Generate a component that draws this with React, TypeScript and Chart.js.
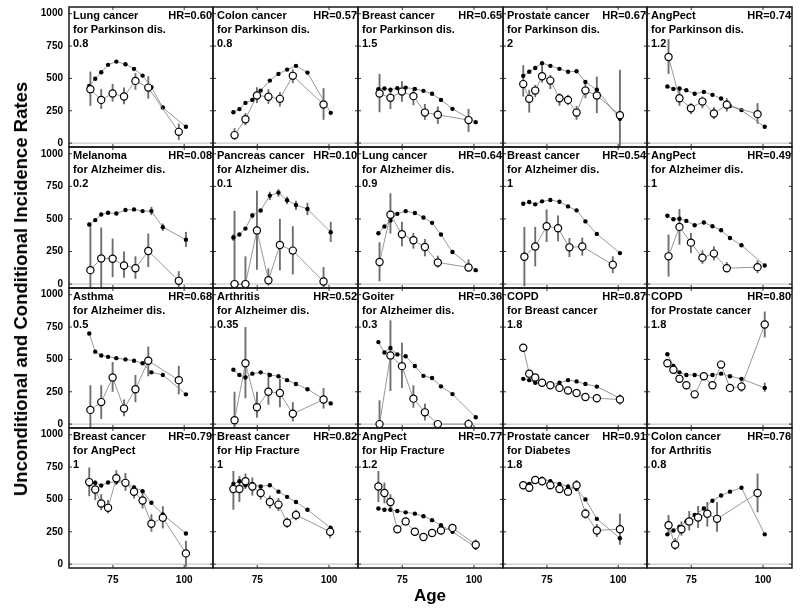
import React, { useEffect, useRef } from "react";
import { Chart, registerables } from "chart.js";
Chart.register(...registerables);

const FONT = "'Liberation Sans', Arial, Helvetica, sans-serif";
const X_MIN = 59.6;
const X_MAX = 110.1;
const Y_MIN = -30;
const Y_MAX = 1052;
const Y_TICKS = [0, 250, 500, 750, 1000];
const X_TICKS = [75, 100];
const COL_EDGES = [69, 213, 358, 503, 647, 792];
const ROW_EDGES = [7, 147, 288, 428, 568];
const PAD = 2;
const Y_AXIS_W = 48;
const X_AXIS_H = 26;

// ages (x positions) of the points
const AGE_U = [66.7, 68.8, 70.9, 73.3, 76.2, 79.4, 82.4, 85.4, 88.5, 92.5, 100.6];
const AGE_C = [67.1, 70.9, 74.9, 78.9, 82.9, 87.4, 98.1];

// Row 1
const p1Unc = [442, 497, 548, 605, 630, 610, 574, 522, 432, 275, 126];
const p1Cond = [417, 334, 383, 360, 481, 429, 87];
const p1Lo = [288, 265, 321, 301, 412, 344, 25];
const p1Hi = [553, 417, 458, 429, 541, 517, 151];

const p2Unc = [239, 263, 311, 334, 406, 483, 535, 568, 597, 545, 234];
const p2Cond = [62, 185, 368, 358, 342, 520, 298];
const p2Lo = [25, 139, 309, 303, 283, 463, 180];
const p2Hi = [116, 232, 432, 417, 394, 571, 425];

const p3Unc = [417, 422, 412, 425, 429, 419, 404, 381, 334, 265, 162];
const p3Cond = [383, 350, 398, 363, 236, 219, 178];
const p3Lo = [239, 263, 319, 293, 180, 149, 87];
const p3Hi = [535, 417, 479, 427, 303, 283, 265];

const p4Unc = [520, 551, 581, 618, 597, 574, 551, 556, 473, 412, 188];
const p4Cond = [456, 342, 406, 517, 483, 347, 334, 236, 406, 368, 216];
const p4Lo = [360, 236, 355, 468, 417, 288, 293, 180, 347, 232, -30];
const p4Hi = [602, 412, 450, 605, 527, 386, 373, 288, 468, 514, 566];

const p5Unc = [437, 419, 422, 409, 381, 396, 373, 345, 286, 255, 126];
const p5Cond = [666, 347, 270, 321, 229, 296, 224];
const p5Lo = [535, 288, 224, 270, 185, 244, 149];
const p5Hi = [803, 417, 309, 360, 278, 347, 309];

// Row 2
const p6Unc = [457, 491, 534, 547, 542, 568, 573, 560, 560, 437, 341];
const p6UncLo = [null, null, null, null, null, null, null, null, 529, 408, 285];
const p6UncHi = [null, null, null, null, null, null, null, null, 593, 465, 400];
const p6Cond = [107, 197, 195, 143, 122, 254, 25];
const p6Lo = [-40, -24, 53, 48, 40, 130, -24];
const p6Hi = [457, 434, 349, 251, 213, 388, 99];

const p7Unc = [357, 380, 426, 527, 565, 679, 702, 643, 607, 576, 398];
const p7UncLo = [331, null, null, 504, null, 645, 671, 614, 568, 529, 323];
const p7UncHi = [383, null, null, 547, null, 709, 728, 671, 640, 624, 478];
const p7Cond = [0, 0, 411, 30, 300, 257, 20];
const p7Lo = [0, 0, 110, -11, 105, 74, -24];
const p7Hi = [562, 213, 717, 120, 501, 444, 130];

const p8Unc = [390, 442, 488, 539, 560, 545, 511, 470, 380, 246, 107];
const p8Cond = [169, 532, 383, 336, 285, 166, 128];
const p8Lo = [22, 388, 290, 272, 213, 126, 92];
const p8Hi = [321, 697, 478, 393, 346, 218, 190];

const p9Unc = [617, 630, 612, 635, 645, 632, 596, 566, 481, 385, 238];
const p9Cond = [210, 288, 444, 429, 282, 288, 149];
const p9Lo = [-17, 136, 323, 329, 207, 218, 84];
const p9Hi = [439, 439, 573, 527, 354, 357, 213];

const p10Unc = [524, 498, 501, 485, 452, 473, 444, 413, 354, 298, 143];
const p10Cond = [213, 439, 318, 203, 234, 122, 130];
const p10Lo = [58, 303, 238, 156, 182, 99, 84];
const p10Hi = [380, 576, 393, 259, 290, 169, 182];

// Row 3
const p11Unc = [700, 560, 530, 520, 510, 500, 490, 470, 400, 380, 230];
const p11Cond = [110, 170, 360, 120, 270, 490, 340];
const p11Lo = [-30, 40, 250, 60, 170, 370, 230];
const p11Hi = [300, 300, 480, 190, 380, 600, 450];

const p12Unc = [420, 380, 360, 390, 400, 380, 370, 340, 310, 270, 160];
const p12Cond = [30, 470, 130, 250, 240, 80, 190];
const p12Lo = [-30, 200, 50, 150, 130, 20, 120];
const p12Hi = [250, 750, 250, 400, 350, 170, 280];

const p13Unc = [634, 554, 588, 539, 524, 449, 373, 356, 292, 232, 53];
const p13Cond = [0, 531, 448, 197, 91, 0, 0];
const p13Lo = [0, 256, 279, 127, 29, 0, -5];
const p13Hi = [184, 802, 629, 300, 158, 0, 40];

const p14Unc = [350, 340, 320, 310, 300, 320, 340, 330, 310, 290, 200];
const p14Cond = [590, 390, 360, 320, 300, 280, 260, 240, 210, 200, 190];
const p14Lo = [560, 370, 340, 300, 280, 260, 240, 220, 190, 170, 150];
const p14Hi = [620, 410, 380, 340, 320, 300, 280, 260, 230, 230, 230];

const p15Unc = [540, 450, 400, 380, 380, 370, 380, 390, 370, 350, 280];
const p15UncLo = [null, null, null, null, null, null, null, null, null, null, 250];
const p15UncHi = [null, null, null, null, null, null, null, null, null, null, 320];
const p15Cond = [470, 420, 350, 300, 230, 370, 300, 460, 280, 290, 770];
const p15Lo = [440, 390, 320, 270, 200, 340, 270, 430, 250, 250, 670];
const p15Hi = [500, 450, 380, 330, 260, 400, 330, 490, 310, 330, 870];

// Row 4
const p16Unc = [616, 628, 608, 631, 636, 631, 593, 564, 474, 384, 237];
const p16Cond = [634, 577, 469, 435, 664, 628, 559, 492, 312, 358, 83];
const p16Lo = [525, 495, 417, 392, 610, 566, 507, 430, 250, 276, -20];
const p16Hi = [747, 649, 541, 495, 726, 705, 610, 572, 386, 448, 180];

const p17Unc = [620, 640, 610, 620, 600, 610, 560, 520, 480, 420, 280];
const p17Cond = [580, 580, 640, 600, 550, 480, 460, 320, 380, 250];
const p17Lo = [420, 480, 580, 530, 500, 430, 410, 280, 340, 200];
const p17Hi = [720, 680, 700, 670, 600, 530, 510, 360, 420, 300];

const p18Unc = [430, 420, 420, 410, 400, 390, 370, 340, 300, 250, 130];
const p18Cond = [600, 550, 480, 270, 330, 250, 210, 240, 260, 280, 150];
const p18Lo = [480, 470, 420, 240, 300, 220, 180, 210, 230, 250, 110];
const p18Hi = [720, 630, 540, 300, 360, 280, 240, 270, 290, 310, 190];

const p19Unc = [600, 620, 650, 660, 640, 620, 600, 580, 500, 350, 200];
const p19Cond = [610, 590, 650, 640, 610, 580, 560, 610, 390, 260, 270];
const p19Lo = [580, 560, 620, 610, 580, 550, 530, 570, 350, 210, 150];
const p19Hi = [640, 620, 680, 670, 640, 610, 590, 650, 430, 310, 390];

const p20Unc = [230, 260, 290, 330, 380, 430, 490, 530, 560, 590, 230];
const p20Cond = [300, 150, 270, 330, 360, 390, 350, 550];
const p20Lo = [230, 110, 220, 260, 280, 290, 250, 400];
const p20Hi = [380, 200, 330, 410, 450, 480, 480, 700];

type Panel = {
  name: string;
  target: string;
  value: string;
  hr: string;
  unc: number[];
  uncLo?: (number | null)[];
  uncHi?: (number | null)[];
  condX: number[];
  cond: number[];
  lo: number[];
  hi: number[];
};

const AGE_C10 = AGE_U.slice(0, 9).concat([100.4]);
const AGE_C8 = [67.1, 69.4, 71.6, 74.3, 77.4, 80.6, 84.0, 98.1];

const PANELS: Panel[] = [
  { name: "Lung cancer", target: "for Parkinson dis.", value: "0.8", hr: "HR=0.60", unc: p1Unc, condX: AGE_C, cond: p1Cond, lo: p1Lo, hi: p1Hi },
  { name: "Colon cancer", target: "for Parkinson dis.", value: "0.8", hr: "HR=0.57", unc: p2Unc, condX: AGE_C, cond: p2Cond, lo: p2Lo, hi: p2Hi },
  { name: "Breast cancer", target: "for Parkinson dis.", value: "1.5", hr: "HR=0.65", unc: p3Unc, condX: AGE_C, cond: p3Cond, lo: p3Lo, hi: p3Hi },
  { name: "Prostate cancer", target: "for Parkinson dis.", value: "2", hr: "HR=0.67", unc: p4Unc, condX: AGE_U, cond: p4Cond, lo: p4Lo, hi: p4Hi },
  { name: "AngPect", target: "for Parkinson dis.", value: "1.2", hr: "HR=0.74", unc: p5Unc, condX: AGE_C, cond: p5Cond, lo: p5Lo, hi: p5Hi },
  { name: "Melanoma", target: "for Alzheimer dis.", value: "0.2", hr: "HR=0.08", unc: p6Unc, uncLo: p6UncLo, uncHi: p6UncHi, condX: AGE_C, cond: p6Cond, lo: p6Lo, hi: p6Hi },
  { name: "Pancreas cancer", target: "for Alzheimer dis.", value: "0.1", hr: "HR=0.10", unc: p7Unc, uncLo: p7UncLo, uncHi: p7UncHi, condX: AGE_C, cond: p7Cond, lo: p7Lo, hi: p7Hi },
  { name: "Lung cancer", target: "for Alzheimer dis.", value: "0.9", hr: "HR=0.64", unc: p8Unc, condX: AGE_C, cond: p8Cond, lo: p8Lo, hi: p8Hi },
  { name: "Breast cancer", target: "for Alzheimer dis.", value: "1", hr: "HR=0.54", unc: p9Unc, condX: AGE_C, cond: p9Cond, lo: p9Lo, hi: p9Hi },
  { name: "AngPect", target: "for Alzheimer dis.", value: "1", hr: "HR=0.49", unc: p10Unc, condX: AGE_C, cond: p10Cond, lo: p10Lo, hi: p10Hi },
  { name: "Asthma", target: "for Alzheimer dis.", value: "0.5", hr: "HR=0.68", unc: p11Unc, condX: AGE_C, cond: p11Cond, lo: p11Lo, hi: p11Hi },
  { name: "Arthritis", target: "for Alzheimer dis.", value: "0.35", hr: "HR=0.52", unc: p12Unc, condX: AGE_C, cond: p12Cond, lo: p12Lo, hi: p12Hi },
  { name: "Goiter", target: "for Alzheimer dis.", value: "0.3", hr: "HR=0.36", unc: p13Unc, condX: AGE_C, cond: p13Cond, lo: p13Lo, hi: p13Hi },
  { name: "COPD", target: "for Breast cancer", value: "1.8", hr: "HR=0.87", unc: p14Unc, condX: AGE_U, cond: p14Cond, lo: p14Lo, hi: p14Hi },
  { name: "COPD", target: "for Prostate cancer", value: "1.8", hr: "HR=0.80", unc: p15Unc, uncLo: p15UncLo, uncHi: p15UncHi, condX: AGE_U, cond: p15Cond, lo: p15Lo, hi: p15Hi },
  { name: "Breast cancer", target: "for AngPect", value: "1", hr: "HR=0.79", unc: p16Unc, condX: AGE_U, cond: p16Cond, lo: p16Lo, hi: p16Hi },
  { name: "Breast cancer", target: "for Hip Fracture", value: "1", hr: "HR=0.82", unc: p17Unc, condX: AGE_C10, cond: p17Cond, lo: p17Lo, hi: p17Hi },
  { name: "AngPect", target: "for Hip Fracture", value: "1.2", hr: "HR=0.77", unc: p18Unc, condX: AGE_U, cond: p18Cond, lo: p18Lo, hi: p18Hi },
  { name: "Prostate cancer", target: "for Diabetes", value: "1.8", hr: "HR=0.91", unc: p19Unc, condX: AGE_U, cond: p19Cond, lo: p19Lo, hi: p19Hi },
  { name: "Colon cancer", target: "for Arthritis", value: "0.8", hr: "HR=0.76", unc: p20Unc, condX: AGE_C8, cond: p20Cond, lo: p20Lo, hi: p20Hi },
];

function line(ctx: CanvasRenderingContext2D, x1: number, y1: number, x2: number, y2: number) {
  ctx.beginPath();
  ctx.moveTo(x1, y1);
  ctx.lineTo(x2, y2);
  ctx.stroke();
}

const decorPlugin = {
  id: "panelDecor",
  beforeDatasetsDraw(chart: any) {
    const { ctx, chartArea: a, scales } = chart;
    const xs = scales.x;
    const ys = scales.y;
    ctx.save();
    ctx.strokeStyle = "#bdbdbd";
    ctx.lineWidth = 1;
    const y0 = ys.getPixelForValue(0);
    line(ctx, a.left, y0, a.right, y0);
    ctx.strokeStyle = "#333";
    ctx.lineWidth = 1;
    Y_TICKS.forEach((v) => {
      const y = ys.getPixelForValue(v);
      line(ctx, a.left, y, a.left + 3, y);
      line(ctx, a.right - 3, y, a.right, y);
    });
    X_TICKS.forEach((v) => {
      const x = xs.getPixelForValue(v);
      line(ctx, x, a.bottom, x, a.bottom - 3);
      line(ctx, x, a.top, x, a.top + 3);
    });
    ctx.beginPath();
    ctx.rect(a.left, a.top, a.right - a.left, a.bottom - a.top);
    ctx.clip();
    ctx.strokeStyle = "#6f6f6f";
    ctx.lineWidth = 1.9;
    chart.data.datasets.forEach((ds: any) => {
      const lo = ds.errLo;
      const hi = ds.errHi;
      if (!lo || !hi) return;
      ds.data.forEach((p: any, i: number) => {
        if (lo[i] == null || hi[i] == null) return;
        const x = xs.getPixelForValue(p.x);
        line(ctx, x, ys.getPixelForValue(lo[i]), x, ys.getPixelForValue(hi[i]));
      });
    });
    ctx.restore();
  },
  afterDraw(chart: any, _args: any, opts: any) {
    const { ctx, chartArea: a } = chart;
    ctx.save();
    ctx.strokeStyle = "#1a1a1a";
    ctx.lineWidth = 1.5;
    ctx.strokeRect(a.left, a.top, a.right - a.left, a.bottom - a.top);
    ctx.fillStyle = "#000";
    ctx.font = `bold 11px ${FONT}`;
    ctx.textBaseline = "alphabetic";
    ctx.textAlign = "left";
    ctx.fillText(opts.name, a.left + 4, a.top + 12);
    ctx.fillText(opts.target, a.left + 4, a.top + 26);
    ctx.fillText(opts.value, a.left + 4, a.top + 40);
    ctx.textAlign = "right";
    ctx.fillText(opts.hr, a.right - 1, a.top + 12);
    ctx.restore();
  },
};

function zeroPadding(s: any) {
  s.paddingTop = 0;
  s.paddingBottom = 0;
  s.paddingLeft = 0;
  s.paddingRight = 0;
}

export default function App() {
  const refs = useRef<(HTMLCanvasElement | null)[]>([]);

  const layout = PANELS.map((_, i) => {
    const r = Math.floor(i / 5);
    const c = i % 5;
    const w = COL_EDGES[c + 1] - COL_EDGES[c];
    const h = ROW_EDGES[r + 1] - ROW_EDGES[r];
    const leftExtra = c === 0 ? Y_AXIS_W : PAD;
    const bottomExtra = r === 3 ? X_AXIS_H : PAD;
    return {
      r,
      c,
      left: COL_EDGES[c] - leftExtra,
      top: ROW_EDGES[r] - PAD,
      width: w + leftExtra + PAD,
      height: h + PAD + bottomExtra,
    };
  });

  useEffect(() => {
    const charts: Chart[] = [];
    PANELS.forEach((p, i) => {
      const canvas = refs.current[i];
      if (!canvas) return;
      const { r, c } = layout[i];
      const showX = r === 3;
      const showY = c === 0;
      const tickFont = { family: FONT, size: 10, weight: "bold" as const };
      const chart = new Chart(canvas, {
        type: "line",
        data: {
          datasets: [
            {
              label: "conditional",
              data: p.condX.map((x, k) => ({ x, y: p.cond[k] })),
              borderColor: "#8c8c8c",
              borderWidth: 0.9,
              pointRadius: 3.6,
              pointBackgroundColor: "#ffffff",
              pointBorderColor: "#000000",
              pointBorderWidth: 1.2,
              errLo: p.lo,
              errHi: p.hi,
            } as any,
            {
              label: "unconditional",
              data: AGE_U.map((x, k) => ({ x, y: p.unc[k] })),
              borderColor: "#8c8c8c",
              borderWidth: 0.9,
              pointRadius: 2.2,
              pointBackgroundColor: "#000000",
              pointBorderColor: "#000000",
              pointBorderWidth: 0,
              errLo: p.uncLo,
              errHi: p.uncHi,
            } as any,
          ],
        },
        options: {
          responsive: false,
          animation: false,
          events: [],
          layout: {
            autoPadding: false,
            padding: {
              left: showY ? 0 : PAD,
              right: PAD,
              top: PAD,
              bottom: showX ? 0 : PAD,
            },
          },
          plugins: {
            legend: { display: false },
            tooltip: { enabled: false },
            title: { display: false },
            panelDecor: { name: p.name, target: p.target, value: p.value, hr: p.hr },
          } as any,
          scales: {
            x: {
              type: "linear",
              min: X_MIN,
              max: X_MAX,
              display: showX,
              grid: { display: false, drawTicks: false },
              border: { display: false },
              ticks: { font: tickFont, color: "#000", padding: 6, maxRotation: 0, callback: (v: any) => String(v) },
              afterBuildTicks: (s: any) => {
                s.ticks = X_TICKS.map((v) => ({ value: v }));
              },
              afterFit: (s: any) => {
                s.height = showX ? X_AXIS_H : 0;
                zeroPadding(s);
              },
            },
            y: {
              type: "linear",
              min: Y_MIN,
              max: Y_MAX,
              display: showY,
              grid: { display: false, drawTicks: false },
              border: { display: false },
              ticks: { font: tickFont, color: "#000", padding: 6, callback: (v: any) => String(v) },
              afterBuildTicks: (s: any) => {
                s.ticks = Y_TICKS.map((v) => ({ value: v }));
              },
              afterFit: (s: any) => {
                s.width = showY ? Y_AXIS_W : 0;
                zeroPadding(s);
              },
            },
          },
        },
        plugins: [decorPlugin as any],
      });
      charts.push(chart);
    });
    return () => charts.forEach((ch) => ch.destroy());
  }, []);

  return (
    <div style={{ position: "absolute", left: 0, top: 0, width: 800, height: 611, background: "#fff", overflow: "hidden" }}>
      {layout.map((l, i) => (
        <canvas
          key={i}
          ref={(el) => {
            refs.current[i] = el;
          }}
          width={l.width}
          height={l.height}
          style={{ position: "absolute", left: l.left, top: l.top, width: l.width, height: l.height }}
        />
      ))}
      <div
        style={{
          position: "absolute",
          left: 21,
          top: 289,
          transform: "translate(-50%, -50%) rotate(-90deg)",
          whiteSpace: "nowrap",
          fontFamily: FONT,
          fontWeight: "bold",
          fontSize: 18.5,
          color: "#000",
        }}
      >
        Unconditional and Conditional Incidence Rates
      </div>
      <div
        style={{
          position: "absolute",
          left: 430,
          top: 596,
          transform: "translate(-50%, -50%)",
          whiteSpace: "nowrap",
          fontFamily: FONT,
          fontWeight: "bold",
          fontSize: 17,
          color: "#000",
        }}
      >
        Age
      </div>
    </div>
  );
}
